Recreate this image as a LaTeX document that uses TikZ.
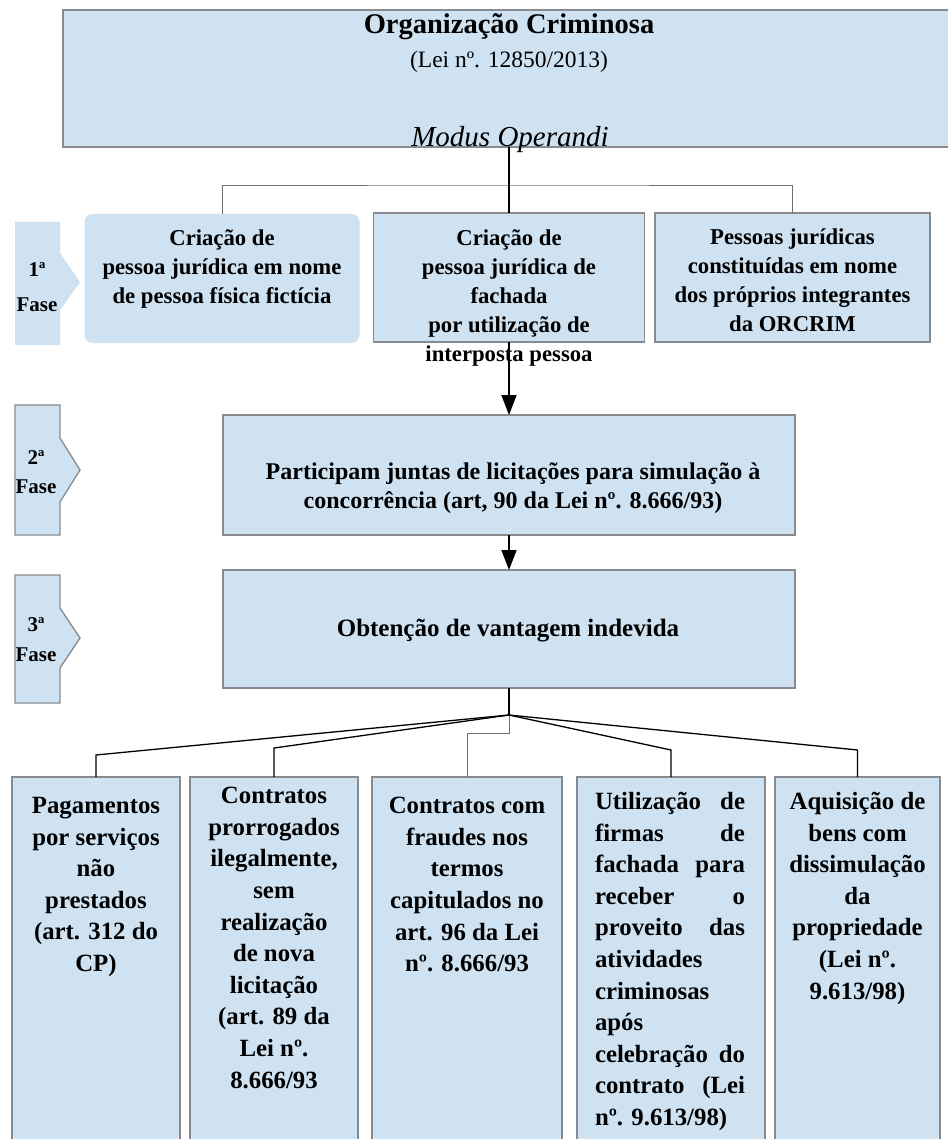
\documentclass[tikz,border=0pt]{standalone}
\usepackage{fontspec}
\setmainfont{Liberation Serif}
\usetikzlibrary{arrows.meta}
\definecolor{boxfill}{RGB}{206,226,242}
\definecolor{boxline}{RGB}{135,139,143}
\definecolor{thinline}{RGB}{110,110,110}
\begin{document}
\begin{tikzpicture}[x=1pt,y=-1pt,
  box/.style={draw=boxline, line width=1.3pt, fill=boxfill, inner sep=0pt, outer sep=0pt},
  fillonly/.style={draw=none, fill=boxfill, inner sep=0pt, outer sep=0pt},
  tone/.style={font=\bfseries\fontsize{22.7}{29}\selectfont, align=center, inner sep=0pt, anchor=north},
  ttwo/.style={font=\bfseries\fontsize{24}{29}\selectfont, align=center, inner sep=0pt, anchor=north},
  tbot/.style={font=\bfseries\fontsize{24.8}{31.6}\selectfont, align=center, inner sep=0pt, anchor=north},
  phase/.style={font=\bfseries\fontsize{21}{29}\selectfont, align=center, inner sep=0pt},
  blk/.style={draw=black, line width=1.6pt},
  gry/.style={draw=thinline, line width=0.9pt},
  arr/.style={-{Triangle[length=20pt,width=15pt]}}
]
\useasboundingbox (0,0) rectangle (947,1139);
\fill[white] (0,0) rectangle (947,1139);

% top box
\node[box, minimum width=892pt, minimum height=137pt] (org) at (509,78.5) {};
\node[font=\bfseries\fontsize{28.5}{32}\selectfont, inner sep=0pt] (title) at (509,27) {Organização Criminosa};
\node[font=\fontsize{23.5}{27}\selectfont, inner sep=0pt] (lei) at (509,62) {(Lei nº. 12850/2013)};
\node[font=\itshape\fontsize{29}{32}\selectfont, anchor=base, inner sep=0pt] (modus) at (510,147) {Modus Operandi};

% phase shapes
\fill[boxfill] (15,222) -- (60,222) -- (60,253) -- (80,282) -- (60,310) -- (60,345) -- (15,345) -- cycle;
\node[phase, font=\bfseries\fontsize{21}{35}\selectfont] (f1) at (37,287) {1ª\\Fase};
\draw[boxline, line width=1.3pt, fill=boxfill] (15,405) -- (60,405) -- (60,438) -- (80,470) -- (60,502) -- (60,535) -- (15,535) -- cycle;
\node[phase] (f2) at (36,472) {2ª\\Fase};
\draw[boxline, line width=1.3pt, fill=boxfill] (15,575) -- (60,575) -- (60,608) -- (80,638) -- (60,668) -- (60,703) -- (15,703) -- cycle;
\node[phase, font=\bfseries\fontsize{21}{30}\selectfont] (f3) at (36,640) {3ª\\Fase};

% first phase boxes
\node[fillonly, rounded corners=8pt, minimum width=275pt, minimum height=129pt] (p1a) at (222,278.5) {};
\node[box, minimum width=271pt, minimum height=129pt] (p1b) at (509,277.5) {};
\node[box, minimum width=275pt, minimum height=129pt] (p1c) at (792.5,277.5) {};
\node[tone] (t1a) at (222,229) {Criação de\\pessoa jurídica em nome\\de pessoa física fictícia};
\node[tone] (t1b) at (509,229) {Criação de\\pessoa jurídica de\\fachada\\por utilização de\\interposta pessoa};
\node[tone] (t1c) at (792.5,229) {Pessoas jurídicas\\constituídas em nome\\dos próprios integrantes\\da ORCRIM};

% second and third phase
\node[box, minimum width=572pt, minimum height=120pt] (p2) at (509,475) {};
\node[ttwo] (t2) at (513,463) {Participam juntas de licitações para simulação à\\concorrência (art, 90 da Lei nº. 8.666/93)};
\node[box, minimum width=572pt, minimum height=118pt] (p3) at (509,629) {};
\node[font=\bfseries\fontsize{25}{30}\selectfont, inner sep=0pt] (t3) at (508,631) {Obtenção de vantagem indevida};

% bottom boxes
\node[box, anchor=north, minimum width=168pt, minimum height=380pt] (b1) at (96,777) {};
\node[box, anchor=north, minimum width=168pt, minimum height=380pt] (b2) at (274,777) {};
\node[box, anchor=north, minimum width=190pt, minimum height=380pt] (b3) at (467,777) {};
\node[box, anchor=north, minimum width=188pt, minimum height=380pt] (b4) at (671,777) {};
\node[box, anchor=north, minimum width=165pt, minimum height=380pt] (b5) at (857.5,777) {};

\node[tbot] (tb1) at (96,797) {Pagamentos\\por serviços\\não\\prestados\\(art. 312 do\\CP)};
\node[tbot] (tb2) at (274,787) {Contratos\\prorrogados\\ilegalmente,\\sem\\realização\\de nova\\licitação\\(art. 89 da\\Lei nº.\\8.666/93};
\node[tbot] (tb3) at (467,797) {Contratos com\\fraudes nos\\termos\\capitulados no\\art. 96 da Lei\\nº. 8.666/93};
\node[tbot, align=left] (tb4) at (670,792) {\makebox[150pt][s]{Utilização de}\\\makebox[150pt][s]{firmas de}\\\makebox[150pt][s]{fachada para}\\\makebox[150pt][s]{receber o}\\\makebox[150pt][s]{proveito das}\\atividades\\criminosas\\após\\\makebox[150pt][s]{celebração do}\\\makebox[150pt][s]{contrato (Lei}\\nº. 9.613/98)};
\node[tbot] (tb5) at (857.5,792) {Aquisição de\\bens com\\dissimulação\\da\\propriedade\\(Lei nº.\\9.613/98)};

% connectors top
\coordinate (j1) at (509,185);
\draw[gry] (p1a.north) |- (j1) -| (p1c.north);
\draw[blk] (org.south) -- (p1b.north);
\draw[blk, arr] (p1b.south) -- (p2.north);
\draw[blk, arr] (p2.south) -- (p3.north);

% connectors bottom
\coordinate (j2) at (509,715);
\coordinate (k1) at (96,755);
\coordinate (k2) at (274,748);
\coordinate (k3) at (509,733);
\coordinate (k4) at (671,750);
\coordinate (k5) at (857.5,750);
\draw[blk] (p3.south) -- (j2);
\draw[blk, line width=1.3pt] (j2) -- (k1) -- (b1.north);
\draw[blk, line width=1.3pt] (j2) -- (k2) -- (b2.north);
\draw[gry] (j2) -- (k3) -| (b3.north);
\draw[blk, line width=1.3pt] (j2) -- (k4) -- (b4.north);
\draw[blk, line width=1.3pt] (j2) -- (k5) -- (b5.north);
\end{tikzpicture}
\end{document}
